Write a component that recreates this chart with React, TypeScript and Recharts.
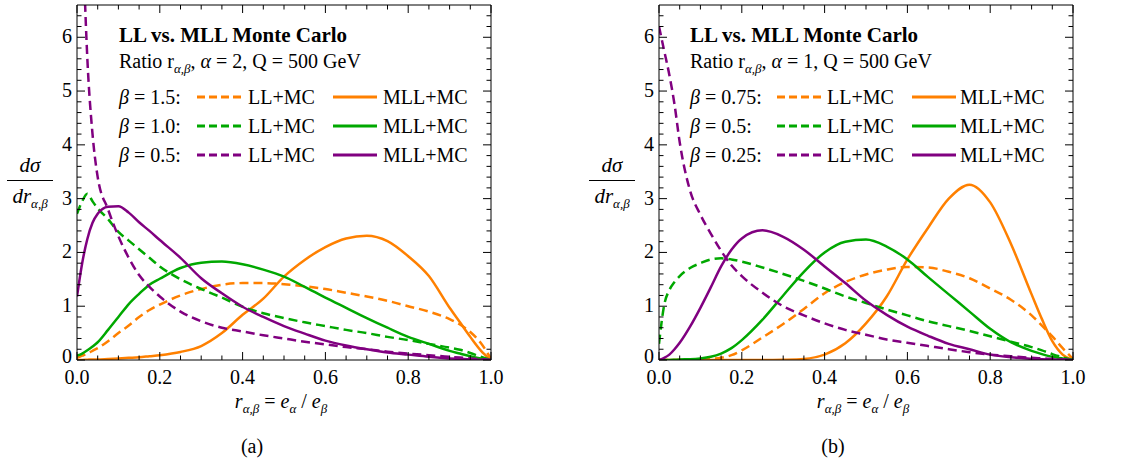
import React from 'react';
import { LineChart, Line, XAxis, YAxis } from 'recharts';

// ---------- data ----------
const R_GRID = [0, 0.0125, 0.025, 0.0375, 0.05, 0.075, 0.1, 0.125, 0.15, 0.175, 0.2, 0.25, 0.3, 0.35, 0.4, 0.45, 0.5, 0.55, 0.6, 0.65, 0.7, 0.75, 0.8, 0.85, 0.9, 0.925, 0.95, 0.975, 1.0];

// panel (a): alpha = 2
const A_LL_15 = [0.04, 0.08, 0.12, 0.17, 0.22, 0.35, 0.5, 0.64, 0.8, 0.93, 1.03, 1.2, 1.32, 1.4, 1.43, 1.43, 1.41, 1.37, 1.32, 1.25, 1.18, 1.1, 1.0, 0.9, 0.76, 0.66, 0.52, 0.32, 0.02];
const A_MLL_15 = [0, 0, 0.005, 0.01, 0.01, 0.02, 0.03, 0.04, 0.05, 0.07, 0.09, 0.15, 0.26, 0.5, 0.84, 1.14, 1.55, 1.86, 2.1, 2.26, 2.31, 2.21, 1.93, 1.56, 0.97, 0.7, 0.43, 0.18, 0];
const A_LL_10 = [2.72, 2.95, 3.09, 2.95, 2.82, 2.62, 2.38, 2.22, 2.06, 1.9, 1.74, 1.5, 1.32, 1.16, 0.99, 0.87, 0.78, 0.7, 0.63, 0.56, 0.5, 0.43, 0.37, 0.3, 0.23, 0.19, 0.13, 0.06, 0];
const A_MLL_10 = [0.08, 0.12, 0.18, 0.25, 0.33, 0.56, 0.8, 1.04, 1.23, 1.4, 1.51, 1.71, 1.81, 1.83, 1.78, 1.68, 1.55, 1.36, 1.16, 0.97, 0.78, 0.6, 0.43, 0.3, 0.17, 0.12, 0.07, 0.03, 0];
const A_LL_05 = [null, 8.2, 5.6, 4.2, 3.4, 2.8, 2.3, 1.9, 1.58, 1.36, 1.18, 0.9, 0.72, 0.6, 0.53, 0.46, 0.4, 0.34, 0.29, 0.24, 0.2, 0.155, 0.12, 0.09, 0.06, 0.045, 0.03, 0.015, 0];
const A_MLL_05 = [1.18, 1.8, 2.25, 2.55, 2.72, 2.85, 2.86, 2.74, 2.56, 2.4, 2.23, 1.9, 1.52, 1.24, 0.99, 0.8, 0.63, 0.49, 0.36, 0.27, 0.2, 0.14, 0.1, 0.06, 0.03, 0.02, 0.01, 0.005, 0];

// panel (b): alpha = 1
const B_LL_075 = [0, 0, 0, 0, 0, 0.005, 0.01, 0.02, 0.04, 0.09, 0.18, 0.42, 0.67, 0.95, 1.24, 1.45, 1.59, 1.68, 1.73, 1.72, 1.64, 1.52, 1.33, 1.12, 0.83, 0.64, 0.44, 0.22, 0.02];
const B_MLL_075 = [0, 0, 0, 0, 0, 0, 0, 0, 0, 0, 0, 0, 0.005, 0.02, 0.1, 0.31, 0.68, 1.18, 1.87, 2.46, 3.0, 3.26, 2.93, 2.16, 1.22, 0.76, 0.35, 0.1, 0];
const B_LL_05 = [0.3, 1.02, 1.3, 1.45, 1.56, 1.71, 1.8, 1.87, 1.89, 1.87, 1.83, 1.72, 1.6, 1.47, 1.33, 1.18, 1.06, 0.94, 0.83, 0.72, 0.63, 0.54, 0.44, 0.34, 0.24, 0.18, 0.11, 0.05, 0];
const B_MLL_05 = [0, 0, 0, 0.005, 0.01, 0.015, 0.03, 0.06, 0.12, 0.22, 0.37, 0.75, 1.2, 1.64, 2.0, 2.2, 2.24, 2.11, 1.87, 1.54, 1.22, 0.9, 0.58, 0.33, 0.17, 0.11, 0.06, 0.03, 0];
const B_LL_025 = [6.2, 5.75, 5.3, 4.75, 4.05, 3.15, 2.7, 2.35, 2.03, 1.76, 1.56, 1.25, 1.0, 0.83, 0.68, 0.56, 0.47, 0.38, 0.32, 0.26, 0.2, 0.145, 0.1, 0.07, 0.04, 0.03, 0.02, 0.01, 0];
const B_MLL_025 = [0, 0.04, 0.1, 0.2, 0.32, 0.62, 0.97, 1.35, 1.74, 2.05, 2.26, 2.41, 2.29, 2.05, 1.74, 1.43, 1.1, 0.84, 0.62, 0.45, 0.3, 0.2, 0.1, 0.05, 0.025, 0.015, 0.01, 0.005, 0];

const X_MAJOR = [0, 0.2, 0.4, 0.6, 0.8, 1.0];
const X_MINOR = [0.05, 0.1, 0.15, 0.25, 0.3, 0.35, 0.45, 0.5, 0.55, 0.65, 0.7, 0.75, 0.85, 0.9, 0.95];
const Y_MAJOR = [0, 1, 2, 3, 4, 5, 6];
const Y_MINOR = [0.2, 0.4, 0.6, 0.8, 1.2, 1.4, 1.6, 1.8, 2.2, 2.4, 2.6, 2.8, 3.2, 3.4, 3.6, 3.8, 4.2, 4.4, 4.6, 4.8, 5.2, 5.4, 5.6, 5.8, 6.2, 6.4];
const Y_MAX = 6.6;

const BETAS_A = ['1.5', '1.0', '0.5'];
const BETAS_B = ['0.75', '0.5', '0.25'];

// ---------- style ----------
const ORANGE = '#FF8000';
const GREEN = '#00A800';
const PURPLE = '#800080';
const COLORS = [ORANGE, GREEN, PURPLE];
const SERIF = '"Liberation Serif", "Times New Roman", serif';
const FS = 20;

type Row = Record<string, number | null>;
function makeRows(keys: string[], arrays: (number | null)[][]): Row[] {
  return R_GRID.map((r, i) => {
    const row: Row = { r };
    keys.forEach((k, j) => {
      row[k] = arrays[j][i];
    });
    return row;
  });
}

const KEYS = ['ll0', 'mll0', 'll1', 'mll1', 'll2', 'mll2'];
const DATA_A = makeRows(KEYS, [A_LL_15, A_MLL_15, A_LL_10, A_MLL_10, A_LL_05, A_MLL_05]);
const DATA_B = makeRows(KEYS, [B_LL_075, B_MLL_075, B_LL_05, B_MLL_05, B_LL_025, B_MLL_025]);

const X_TICKS = [...X_MAJOR, ...X_MINOR].sort((a, b) => a - b);
const Y_TICKS = [...Y_MAJOR, ...Y_MINOR].sort((a, b) => a - b);
const isMajorX = (v: number) => X_MAJOR.some((m) => Math.abs(m - v) < 1e-9);
const isMajorY = (v: number) => Y_MAJOR.some((m) => Math.abs(m - v) < 1e-9);

const MAJ = 8;
const MIN = 4.5;

const BottomTick = (p: any) => {
  const v = p.payload.value;
  const maj = isMajorX(v);
  return (
    <g>
      <line x1={p.x} x2={p.x} y1={p.y} y2={p.y - (maj ? MAJ : MIN)} stroke="#000" strokeWidth={1} />
      {maj && (
        <text x={p.x} y={p.y + 24} textAnchor="middle" fontFamily={SERIF} fontSize={FS} fill="#000">
          {v.toFixed(1)}
        </text>
      )}
    </g>
  );
};
const TopTick = (p: any) => {
  const v = p.payload.value;
  const maj = isMajorX(v);
  return <line x1={p.x} x2={p.x} y1={p.y} y2={p.y + (maj ? MAJ : MIN)} stroke="#000" strokeWidth={1} />;
};
const LeftTick = (p: any) => {
  const v = p.payload.value;
  const maj = isMajorY(v);
  return (
    <g>
      <line x1={p.x} x2={p.x + (maj ? MAJ : MIN)} y1={p.y} y2={p.y} stroke="#000" strokeWidth={1} />
      {maj && (
        <text x={p.x - 5} y={p.y + (v === 0 ? 3 : 6)} textAnchor="end" fontFamily={SERIF} fontSize={FS} fill="#000">
          {String(v)}
        </text>
      )}
    </g>
  );
};
const RightTick = (p: any) => {
  const v = p.payload.value;
  const maj = isMajorY(v);
  return <line x1={p.x} x2={p.x - (maj ? MAJ : MIN)} y1={p.y} y2={p.y} stroke="#000" strokeWidth={1} />;
};

const TOP = 5;
const BOTTOM = 360;
const H = 458;

function Txt({ x, y, children, center, style }: any) {
  return (
    <div
      style={{
        position: 'absolute',
        left: x,
        top: y,
        transform: center ? 'translate(-50%, -50%)' : 'translate(0, -50%)',
        fontFamily: SERIF,
        fontSize: FS,
        lineHeight: '24px',
        whiteSpace: 'nowrap',
        color: '#000',
        ...style,
      }}
    >
      {children}
    </div>
  );
}

function Sample({ x, y, color, dashed }: any) {
  return (
    <svg style={{ position: 'absolute', left: x, top: y - 3 }} width={44} height={6}>
      <line x1={0} x2={44} y1={3} y2={3} stroke={color} strokeWidth={3} strokeDasharray={dashed ? '8 4' : undefined} />
    </svg>
  );
}

const SUB = { fontSize: 13, fontStyle: 'italic' as const };

function Panel({ boxLeft, frameL, frameR, data, betas, alpha, legOff, cols, caption }: any) {
  const W = 560;
  const axisLine = { stroke: '#000', strokeWidth: 1 };
  return (
    <>
      <div style={{ position: 'absolute', left: boxLeft, top: 0, width: W, height: H }}>
        <LineChart
          width={W}
          height={H}
          data={data}
          margin={{ top: TOP - 1, bottom: H - BOTTOM - 1, left: frameL - boxLeft - 1, right: boxLeft + W - frameR - 1 }}
        >
          <XAxis xAxisId="b" dataKey="r" type="number" domain={[0, 1]} ticks={X_TICKS} interval={0} orientation="bottom" height={1} tickSize={0} tickMargin={0} tickLine={false} axisLine={axisLine} tick={BottomTick} allowDataOverflow />
          <XAxis xAxisId="t" dataKey="r" type="number" domain={[0, 1]} ticks={X_TICKS} interval={0} orientation="top" height={1} tickSize={0} tickMargin={0} tickLine={false} axisLine={axisLine} tick={TopTick} allowDataOverflow />
          <YAxis yAxisId="l" type="number" domain={[0, Y_MAX]} ticks={Y_TICKS} interval={0} orientation="left" width={1} tickSize={0} tickMargin={0} tickLine={false} axisLine={axisLine} tick={LeftTick} allowDataOverflow />
          <YAxis yAxisId="rr" type="number" domain={[0, Y_MAX]} ticks={Y_TICKS} interval={0} orientation="right" width={1} tickSize={0} tickMargin={0} tickLine={false} axisLine={axisLine} tick={RightTick} allowDataOverflow />
          {KEYS.map((k, i) => (
            <Line
              key={k}
              xAxisId="b"
              yAxisId="l"
              dataKey={k}
              type="monotone"
              stroke={COLORS[Math.floor(i / 2)]}
              strokeWidth={2.5}
              strokeDasharray={i % 2 === 0 ? '9 5' : undefined}
              dot={false}
              activeDot={false}
              connectNulls
              isAnimationActive={false}
            />
          ))}
        </LineChart>
      </div>
      {/* legend / annotations */}
      <Txt x={frameL + legOff} y={35} style={{ fontWeight: 'bold', fontSize: 21 }}>LL vs. MLL Monte Carlo</Txt>
      <Txt x={frameL + legOff} y={65}>
        Ratio r<sub style={SUB}>α,β</sub>, <i>α</i> = {alpha}, Q = 500 GeV
      </Txt>
      {betas.map((b: string, i: number) => {
        const y = 97 + i * 29;
        return (
          <React.Fragment key={b}>
            <Txt x={frameL + legOff} y={y}><i>β</i> = {b}:</Txt>
            <Sample x={frameL + cols[0]} y={y} color={COLORS[i]} dashed />
            <Txt x={frameL + cols[1]} y={y}>LL+MC</Txt>
            <Sample x={frameL + cols[2]} y={y} color={COLORS[i]} />
            <Txt x={frameL + cols[3]} y={y}>MLL+MC</Txt>
          </React.Fragment>
        );
      })}
      {/* y label */}
      <div style={{ position: 'absolute', left: frameL - 70, top: 152, width: 46, fontFamily: SERIF, fontSize: 21, fontStyle: 'italic', textAlign: 'center', color: '#000' }}>
        <div style={{ lineHeight: '26px' }}>dσ</div>
        <div style={{ borderTop: '1px solid #000', margin: '2px 0' }} />
        <div style={{ lineHeight: '26px' }}>dr<sub style={SUB}>α,β</sub></div>
      </div>
      {/* x label */}
      <Txt x={(frameL + frameR) / 2 - 3} y={405} center style={{ fontStyle: 'italic' }}>
        r<sub style={SUB}>α,β</sub> <span style={{ fontStyle: 'normal' }}>=</span> e<sub style={SUB}>α</sub> <span style={{ fontStyle: 'normal' }}>/</span> e<sub style={SUB}>β</sub>
      </Txt>
      <Txt x={frameL + caption} y={446} center>{alpha === '2' ? '(a)' : '(b)'}</Txt>
    </>
  );
}

export default function App() {
  return (
    <div style={{ position: 'absolute', left: 0, top: 0, width: 1128, height: H, background: '#fff', overflow: 'hidden' }}>
      <Panel boxLeft={0} frameL={77} frameR={491} data={DATA_A} betas={BETAS_A} alpha="2" legOff={42} cols={[120, 171, 256, 306]} caption={175} />
      <Panel boxLeft={560} frameL={659} frameR={1073} data={DATA_B} betas={BETAS_B} alpha="1" legOff={31} cols={[118, 168, 253, 301]} caption={174} />
    </div>
  );
}
